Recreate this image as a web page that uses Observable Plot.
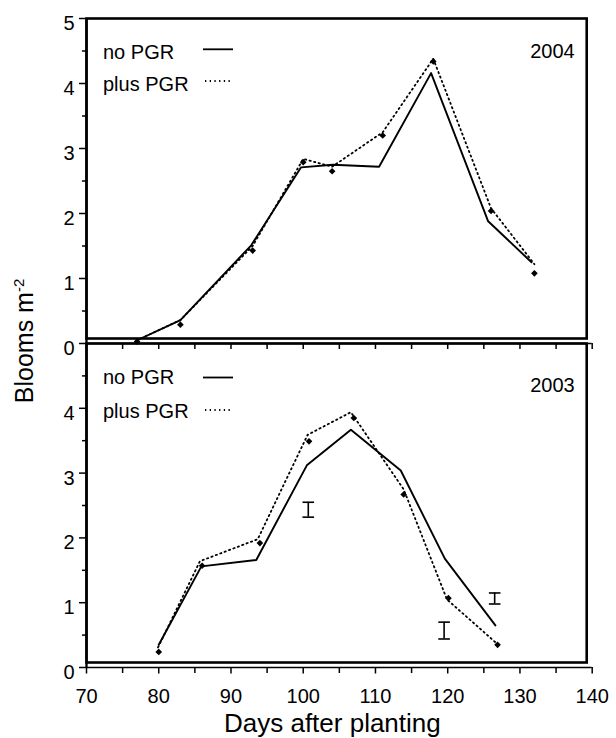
<!DOCTYPE html>
<html><head><meta charset="utf-8">
<script src="https://cdn.jsdelivr.net/npm/d3@7"></script>
<script src="https://cdn.jsdelivr.net/npm/@observablehq/plot@0.6"></script>
<style>
html,body{margin:0;padding:0;background:#fff;}
#chart{position:relative;width:616px;height:738px;font-family:"Liberation Sans",Arial,sans-serif;}
#chart svg{position:absolute;left:0;}
</style></head><body><div id="chart"></div>
<script>
// ---- 2004 ----
const days2004None = [77, 83, 92.8, 99.7, 104.1, 110.5, 117.7, 125.6, 131.6];
const none2004     = [0.05, 0.36, 1.51, 2.71, 2.75, 2.72, 4.16, 1.88, 1.25];
const days2004Plus = [77, 83, 93, 100, 104, 111, 118, 126, 132];
const plusLine2004 = [0.05, 0.36, 1.5, 2.84, 2.72, 3.25, 4.38, 2.08, 1.22];
const plusPts2004  = [0.03, 0.29, 1.43, 2.79, 2.65, 3.2, 4.34, 2.04, 1.08];
// ---- 2003 ----
const days2003None     = [80, 85.9, 93.5, 100.5, 106.6, 113.5, 119.6, 126.6];
const none2003         = [0.35, 1.56, 1.66, 3.12, 3.67, 3.04, 1.68, 0.65];
const days2003PlusLine = [79.9, 85.7, 93.7, 100.6, 106.6, 113.9, 119.9, 126.8];
const plusLine2003     = [0.31, 1.64, 1.98, 3.59, 3.94, 2.75, 1.05, 0.37];
const days2003PlusPts  = [80, 86, 94, 100.8, 107, 113.9, 120.1, 126.9];
const plusPts2003      = [0.24, 1.57, 1.92, 3.49, 3.85, 2.67, 1.07, 0.35];
const barDays2003 = [100.7, 119.5, 126.5];
const barLow2003  = [2.32, 0.44, 0.98];
const barHigh2003 = [2.55, 0.70, 1.15];
// ---- ticks / labels ----
const xMajor = [70, 80, 90, 100, 110, 120, 130, 140];
const xAll = [70, 75, 80, 85, 90, 95, 100, 105, 110, 115, 120, 125, 130, 135, 140];
const xMinor = [75, 85, 95, 105, 115, 125, 135];
const yTopLabels = [0, 1, 2, 3, 4, 5];
const yBotLabels = [0, 1, 2, 3, 4];
const yMinor = [0.5, 1.5, 2.5, 3.5, 4.5];
const legendLabels = ["no PGR", "plus PGR"];
const legendDash = [null, "1.3 3.4"];
const years = ["2004", "2003"];
const xTitle = "Days after planting";
const yTitle = "Blooms m";
const yTitleSup = "-2";

const pts = (xs, ys) => xs.map((x, i) => ({x, y: ys[i]}));

const capSymbol = {
  draw(ctx, size) {
    const r = Math.sqrt(size / Math.PI);
    ctx.moveTo(-r, 0); ctx.lineTo(r, 0);
  }
};

function legendLines(rows) {
  return (index, scales, values, dims) => {
    const g = d3.create("svg:g");
    rows.forEach((o, i) => {
      g.append("line")
        .attr("x1", dims.marginLeft + o.x1).attr("x2", dims.marginLeft + o.x2)
        .attr("y1", dims.marginTop + o.y).attr("y2", dims.marginTop + o.y)
        .attr("stroke", "black").attr("stroke-width", 1.8)
        .attr("stroke-dasharray", legendDash[i]);
    });
    return g.node();
  };
}

function panel({year, noneX, noneY, plusLX, plusLY, plusPX, plusPY, bars, yLabels, height, marginTop, marginBottom, legend, yearDy, bottomAxis}) {
  const marks = [
    Plot.frame({stroke: "black", strokeWidth: 2.6, insetBottom: 5, insetRight: 5.5}),
    Plot.ruleX([70], {stroke: "black", strokeWidth: 2.3}),
    Plot.ruleY([0], {stroke: "black", strokeWidth: 1.6}),
    Plot.axisY({ticks: yLabels, tickSize: 7, tickFormat: () => "", label: null, strokeWidth: 1.5}),
    Plot.axisY({ticks: yMinor, tickSize: 4, tickFormat: () => "", label: null, strokeWidth: 1.5}),
    Plot.text(yLabels, {y: d => d, text: d => String(d), frameAnchor: "left", dx: -12, dy: 5, textAnchor: "end", fontSize: 20, fill: "black"}),
    Plot.line(pts(noneX, noneY), {x: "x", y: "y", stroke: "black", strokeWidth: 1.9}),
    Plot.line(pts(plusLX, plusLY), {x: "x", y: "y", stroke: "black", strokeWidth: 1.8, strokeDasharray: legendDash[1]}),
    Plot.dot(pts(plusPX, plusPY), {x: "x", y: "y", symbol: "diamond2", r: 3, fill: "black", stroke: null}),
    Plot.text([year], {frameAnchor: "top-right", dx: -17.5, dy: yearDy, textAnchor: "end", lineAnchor: "bottom", fontSize: 20, fill: "black"}),
    Plot.text([legendLabels[0]], {frameAnchor: "top-left", dx: 16.5, dy: legend.t0, textAnchor: "start", lineAnchor: "bottom", fontSize: 20, fill: "black"}),
    Plot.text([legendLabels[1]], {frameAnchor: "top-left", dx: 16.5, dy: legend.t1, textAnchor: "start", lineAnchor: "bottom", fontSize: 20, fill: "black"}),
    legendLines([{x1: 117, x2: 147, y: legend.l0}, {x1: 119, x2: 147, y: legend.l1}])
  ];
  if (bars) {
    const b = barDays2003.map((x, i) => ({x, lo: barLow2003[i], hi: barHigh2003[i]}));
    marks.push(
      Plot.ruleX(b, {x: "x", y1: "lo", y2: "hi", stroke: "black", strokeWidth: 1.6}),
      Plot.dot(b, {x: "x", y: "lo", symbol: capSymbol, r: 5.8, stroke: "black", fill: "none", strokeWidth: 1.6}),
      Plot.dot(b, {x: "x", y: "hi", symbol: capSymbol, r: 5.8, stroke: "black", fill: "none", strokeWidth: 1.6})
    );
  }
  if (bottomAxis) {
    marks.push(
      Plot.axisX({ticks: xMajor, tickSize: 6.5, tickPadding: 14.5, fontSize: 20, label: null, strokeWidth: 1.5, fill: "black"}),
      Plot.axisX({ticks: xMinor, tickSize: 6, tickFormat: () => "", label: null, strokeWidth: 1.5}),
      Plot.text([xTitle], {frameAnchor: "bottom", dx: -7, dy: 64, textAnchor: "middle", lineAnchor: "bottom", fontSize: 26, fill: "black"})
    );
  } else {
    marks.push(Plot.axisX({ticks: xAll, tickSize: 6, tickFormat: () => "", label: null, strokeWidth: 1.5}));
  }
  return Plot.plot({
    width: 616, height, marginTop, marginBottom, marginLeft: 86, marginRight: 24.3,
    x: {domain: [70, 140], axis: null},
    y: {domain: [0, 5], axis: null},
    style: {fontFamily: "Liberation Sans, Arial, sans-serif", fontSize: "20px", background: "transparent", overflow: "visible", color: "black"},
    marks
  });
}

const chartEl = document.getElementById("chart");

const bottomPanel = panel({
  year: years[1], noneX: days2003None, noneY: none2003, plusLX: days2003PlusLine, plusLY: plusLine2003,
  plusPX: days2003PlusPts, plusPY: plusPts2003, bars: true, yLabels: yBotLabels,
  height: 408, marginTop: 13, marginBottom: 71,
  legend: {t0: 40.5, t1: 74.5, l0: 34.5, l1: 67}, yearDy: 48, bottomAxis: true
});
bottomPanel.style.top = "330px";
chartEl.appendChild(bottomPanel);

const topPanel = panel({
  year: years[0], noneX: days2004None, noneY: none2004, plusLX: days2004Plus, plusLY: plusLine2004,
  plusPX: days2004Plus, plusPY: plusPts2004, bars: false, yLabels: yTopLabels,
  height: 350, marginTop: 18, marginBottom: 7,
  legend: {t0: 40.3, t1: 72.7, l0: 31.3, l1: 63}, yearDy: 39, bottomAxis: false
});
topPanel.style.top = "0px";
chartEl.appendChild(topPanel);

// y-axis title spanning both panels
const ysvg = d3.create("svg").attr("width", 60).attr("height", 738).style("top", "0px").style("overflow", "visible");
const yText = ysvg.append("text")
  .attr("transform", "translate(33,341) rotate(-90)")
  .attr("text-anchor", "middle")
  .attr("font-family", "Liberation Sans, Arial, sans-serif")
  .attr("font-size", 25).attr("fill", "black");
yText.append("tspan").text(yTitle);
yText.append("tspan").attr("dy", -9).attr("font-size", 15).text(yTitleSup);
chartEl.appendChild(ysvg.node());
</script></body></html>
